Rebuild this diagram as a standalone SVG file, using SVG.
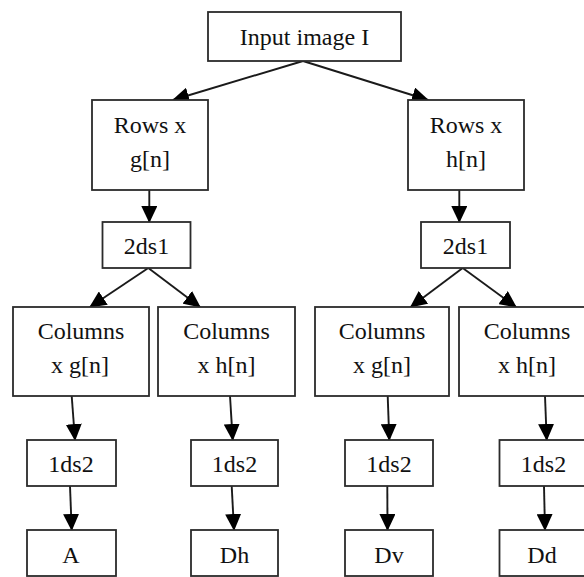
<svg xmlns="http://www.w3.org/2000/svg" width="584" height="577" viewBox="0 0 584 577">
<style>
.box{fill:#fff;stroke:#2b2b2b;stroke-width:1.8}
.t{font-family:"Liberation Serif","Times New Roman",serif;font-size:24px;fill:#111;text-anchor:middle}
.c{stroke:#1a1a1a;stroke-width:1.9;fill:none;marker-end:url(#ah)}
</style>
<defs>
<marker id="ah" markerUnits="userSpaceOnUse" markerWidth="17" markerHeight="16" refX="16" refY="8" orient="auto">
<path d="M0,0 L17,8 L0,16 Z" fill="#000"/>
</marker>
</defs>
<rect width="584" height="577" fill="#fff"/>
<g id="connectors">
<line class="c" x1="303" y1="61" x2="173" y2="100"/>
<line class="c" x1="303" y1="61" x2="428" y2="100"/>
<line class="c" x1="149.3" y1="190" x2="149.3" y2="222"/>
<line class="c" x1="459.3" y1="190" x2="459.3" y2="222"/>
<line class="c" x1="148.3" y1="268" x2="90" y2="307"/>
<line class="c" x1="148.3" y1="268" x2="200" y2="307"/>
<line class="c" x1="462.7" y1="268" x2="410.7" y2="307"/>
<line class="c" x1="462.7" y1="268" x2="516" y2="307"/>
<line class="c" x1="71.7" y1="396" x2="75" y2="440"/>
<line class="c" x1="230" y1="396" x2="232.7" y2="440"/>
<line class="c" x1="387.7" y1="396" x2="389.3" y2="440"/>
<line class="c" x1="545" y1="396" x2="546.7" y2="440"/>
<line class="c" x1="70" y1="486" x2="71.7" y2="530"/>
<line class="c" x1="231.7" y1="486" x2="234" y2="530"/>
<line class="c" x1="387.3" y1="486" x2="387.5" y2="530"/>
<line class="c" x1="544" y1="486" x2="545" y2="530"/>
</g>
<g id="input"><rect class="box" x="208" y="12" width="193" height="49"/><text class="t" x="304.5" y="45">Input image I</text></g>
<g id="rowsG"><rect class="box" x="92" y="100" width="116" height="90"/><text class="t" x="150" y="133">Rows x</text><text class="t" x="150" y="167">g[n]</text></g>
<g id="rowsH"><rect class="box" x="408" y="100" width="116" height="90"/><text class="t" x="466" y="133">Rows x</text><text class="t" x="466" y="167">h[n]</text></g>
<g id="ds1L"><rect class="box" x="102.5" y="222" width="88" height="46"/><text class="t" x="146.5" y="254">2ds1</text></g>
<g id="ds1R"><rect class="box" x="421" y="222" width="89" height="46"/><text class="t" x="465.5" y="254">2ds1</text></g>
<g id="col1"><rect class="box" x="13" y="307" width="136" height="89"/><text class="t" x="81" y="339">Columns</text><text class="t" x="80" y="373">x g[n]</text></g>
<g id="col2"><rect class="box" x="158" y="307" width="137" height="89"/><text class="t" x="226.5" y="339">Columns</text><text class="t" x="226.5" y="373">x h[n]</text></g>
<g id="col3"><rect class="box" x="315" y="307" width="134" height="89"/><text class="t" x="382" y="339">Columns</text><text class="t" x="382" y="373">x g[n]</text></g>
<g id="col4"><rect class="box" x="459" y="307" width="136" height="89"/><text class="t" x="527" y="339">Columns</text><text class="t" x="527" y="373">x h[n]</text></g>
<g id="ds2a"><rect class="box" x="27" y="440" width="89" height="46"/><text class="t" x="71" y="472">1ds2</text></g>
<g id="ds2b"><rect class="box" x="191" y="440" width="87" height="46"/><text class="t" x="234.5" y="472">1ds2</text></g>
<g id="ds2c"><rect class="box" x="345" y="440" width="88" height="46"/><text class="t" x="389" y="472">1ds2</text></g>
<g id="ds2d"><rect class="box" x="499.5" y="440" width="89" height="46"/><text class="t" x="543.5" y="472">1ds2</text></g>
<g id="A"><rect class="box" x="27" y="530" width="89" height="46"/><text class="t" x="71" y="563">A</text></g>
<g id="Dh"><rect class="box" x="191" y="530" width="87" height="46"/><text class="t" x="234.5" y="563">Dh</text></g>
<g id="Dv"><rect class="box" x="345" y="530" width="88" height="46"/><text class="t" x="389" y="563">Dv</text></g>
<g id="Dd"><rect class="box" x="499.5" y="530" width="89" height="46"/><text class="t" x="542" y="563">Dd</text></g>
</svg>
